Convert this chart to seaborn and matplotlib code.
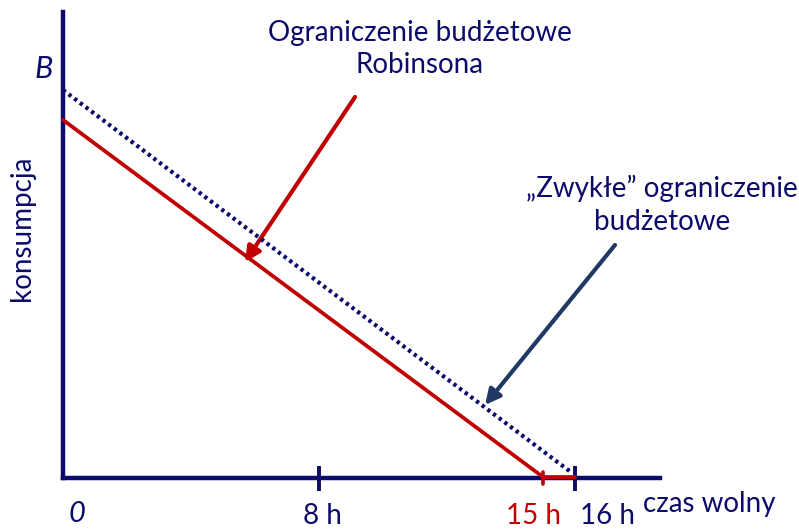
import matplotlib
matplotlib.use("Agg")
import matplotlib.pyplot as plt
import seaborn as sns
import pandas as pd

# ---- data (hours of leisure vs consumption, in chart units) ----
usual_x = [0, 15.85]
usual_y = [12.125, 0.2]
robinson_x = [0, 15, 16]
robinson_y = [11.19, 0.03, 0.03]
tick_hours = [8, 16]
tick_labels = ["8 h", "16 h"]
robinson_hour = 15
robinson_label = "15 h"

NAVY = "#0b0b6b"
RED = "#c00000"
ARROW_BLUE = "#1f3864"

sns.set_style("white")
plt.rcParams["font.family"] = ["Lato", "DejaVu Sans"]

W, H = 799, 529
fig = plt.figure(figsize=(W / 100, H / 100), dpi=100)
x0, x1, ytop, ybot = 63, 660, 12, 478
ax = fig.add_axes([x0 / W, 1 - ybot / H, (x1 - x0) / W, (ybot - ytop) / H])
PX = 32.0
ax.set_xlim(0, (x1 - x0) / PX)
ax.set_ylim(0, (ybot - ytop) / PX)


def p2d(px, py):
    return (px - x0) / PX, (ybot - py) / PX


df_usual = pd.DataFrame({"x": usual_x, "y": usual_y})
df_rob = pd.DataFrame({"x": robinson_x, "y": robinson_y})
sns.lineplot(data=df_usual, x="x", y="y", ax=ax, color=NAVY, lw=3.0,
             linestyle=(0, (0.8, 0.9)), sort=False, zorder=4, clip_on=False)
sns.lineplot(data=df_rob, x="x", y="y", ax=ax, color=RED, lw=2.7,
             sort=False, zorder=5, clip_on=False)

for s in ["top", "right"]:
    ax.spines[s].set_visible(False)
for s in ["left", "bottom"]:
    ax.spines[s].set_color(NAVY)
    ax.spines[s].set_linewidth(3.2)
    ax.spines[s].set_zorder(3)

ax.set_yticks([])
ax.set_xticks(tick_hours)
ax.set_xticklabels([])
ax.tick_params(axis="x", bottom=True, direction="inout", length=18, width=2.8,
               color=NAVY)
ax.set_xlabel("")
ax.set_ylabel("")

# red tick at 15 h
ax.plot([robinson_hour, robinson_hour], [-0.18, 0.2], color=RED, lw=2.6,
        clip_on=False, zorder=6)

fs = 20
ax.text(*p2d(322, 516), tick_labels[0], color=NAVY, fontsize=fs, ha="center", va="center")
ax.text(*p2d(608, 516), tick_labels[1], color=NAVY, fontsize=fs, ha="center", va="center")
ax.text(*p2d(533, 516), robinson_label, color=RED, fontsize=fs, ha="center", va="center")
ax.text(*p2d(709, 504), "czas wolny", color=NAVY, fontsize=fs, ha="center", va="center")
ax.text(*p2d(77, 514), "0", color=NAVY, fontsize=21, style="italic", ha="center", va="center")
ax.text(*p2d(44, 69), "B", color=NAVY, fontsize=22, style="italic", ha="center", va="center")
ax.text(*p2d(22, 228), "konsumpcja", color=NAVY, fontsize=fs, rotation=90,
        ha="center", va="center")

ax.text(*p2d(420, 49), "Ograniczenie budżetowe\nRobinsona", color=NAVY, fontsize=fs,
        ha="center", va="center", linespacing=1.3)
ax.text(*p2d(662, 205), "\u201eZwykłe\u201d ograniczenie\nbudżetowe", color=NAVY, fontsize=fs,
        ha="center", va="center", linespacing=1.3)

ax.annotate("", xy=p2d(245, 262), xytext=p2d(355, 97),
            arrowprops=dict(arrowstyle="-|>,head_length=0.9,head_width=0.45",
                            color=RED, lw=3, shrinkA=0, shrinkB=0))
ax.annotate("", xy=p2d(485, 405), xytext=p2d(615, 245),
            arrowprops=dict(arrowstyle="-|>,head_length=0.9,head_width=0.45",
                            color=ARROW_BLUE, lw=3, shrinkA=0, shrinkB=0))

fig.savefig("out.png", dpi=100)
